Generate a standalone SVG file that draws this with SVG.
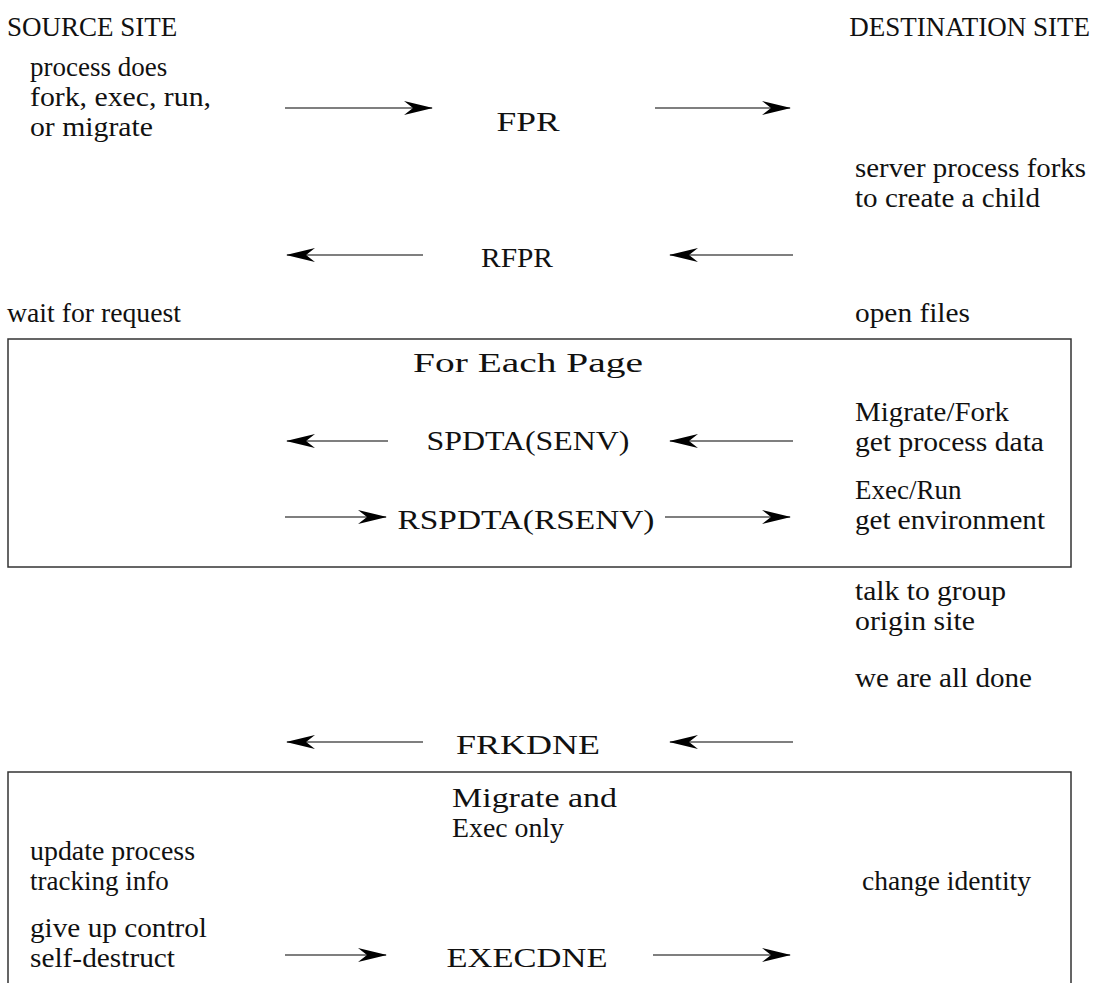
<svg xmlns="http://www.w3.org/2000/svg" width="1094" height="983" viewBox="0 0 1094 983">
  <style>
    text { font-family: 'Liberation Serif', 'Times New Roman', serif; font-size: 27px; fill: #111; }
    .c { text-anchor: middle; }
    .e { text-anchor: end; }
    .msg { stroke: #555; stroke-width: 1.4; fill: none; marker-end: url(#head); }
    .frame { fill: none; stroke: #333; stroke-width: 1.5; }
  </style>
  <defs>
    <marker id="head" markerUnits="userSpaceOnUse" markerWidth="32" markerHeight="18" viewBox="-30 -9 32 18" refX="0" refY="0" orient="auto">
      <path d="M1,0 L-28,-7 L-19,0 L-28,7 Z" fill="#000"/>
    </marker>
  </defs>

  <rect width="1094" height="983" fill="#fff"/>

  <!-- column headings -->
  <g id="headings">
    <text x="7" y="36">SOURCE SITE</text>
    <text class="e" x="1090" y="36">DESTINATION SITE</text>
  </g>

  <!-- enclosing frames -->
  <g id="for-each-page">
    <rect class="frame" x="8" y="339" width="1063" height="228"/>
    <text class="c" x="528" y="372" textLength="230" lengthAdjust="spacingAndGlyphs">For Each Page</text>
  </g>
  <g id="migrate-exec-only">
    <rect class="frame" x="8" y="772" width="1063" height="230"/>
    <text x="452" y="807" textLength="165" lengthAdjust="spacingAndGlyphs">Migrate and</text>
    <text x="452" y="837" textLength="112" lengthAdjust="spacingAndGlyphs">Exec only</text>
  </g>

  <!-- source side steps -->
  <g id="src-start">
    <text x="30" y="76">process does</text>
    <text x="30" y="106" textLength="181" lengthAdjust="spacingAndGlyphs">fork, exec, run,</text>
    <text x="30" y="136" textLength="123" lengthAdjust="spacingAndGlyphs">or migrate</text>
  </g>
  <g id="src-wait"><text x="7" y="322" textLength="174" lengthAdjust="spacingAndGlyphs">wait for request</text></g>
  <g id="src-update">
    <text x="30" y="860" textLength="165" lengthAdjust="spacingAndGlyphs">update process</text>
    <text x="30" y="890">tracking info</text>
  </g>
  <g id="src-end">
    <text x="30" y="937" textLength="177" lengthAdjust="spacingAndGlyphs">give up control</text>
    <text x="30" y="967" textLength="145" lengthAdjust="spacingAndGlyphs">self-destruct</text>
  </g>

  <!-- destination side steps -->
  <g id="dst-fork">
    <text x="855" y="177" textLength="231" lengthAdjust="spacingAndGlyphs">server process forks</text>
    <text x="855" y="207" textLength="185" lengthAdjust="spacingAndGlyphs">to create a child</text>
  </g>
  <g id="dst-open"><text x="855" y="322" textLength="115" lengthAdjust="spacingAndGlyphs">open files</text></g>
  <g id="dst-migrate">
    <text x="855" y="421" textLength="154" lengthAdjust="spacingAndGlyphs">Migrate/Fork</text>
    <text x="855" y="451" textLength="189" lengthAdjust="spacingAndGlyphs">get process data</text>
  </g>
  <g id="dst-exec">
    <text x="855" y="499">Exec/Run</text>
    <text x="855" y="529" textLength="190" lengthAdjust="spacingAndGlyphs">get environment</text>
  </g>
  <g id="dst-group">
    <text x="855" y="600" textLength="151" lengthAdjust="spacingAndGlyphs">talk to group</text>
    <text x="855" y="630" textLength="120" lengthAdjust="spacingAndGlyphs">origin site</text>
  </g>
  <g id="dst-done"><text x="855" y="687" textLength="177" lengthAdjust="spacingAndGlyphs">we are all done</text></g>
  <g id="dst-identity"><text x="862" y="890" textLength="169" lengthAdjust="spacingAndGlyphs">change identity</text></g>

  <!-- message labels -->
  <g id="msg-fpr"><text class="c" x="528" y="131" textLength="63" lengthAdjust="spacingAndGlyphs">FPR</text></g>
  <g id="msg-rfpr"><text class="c" x="517" y="267" textLength="72" lengthAdjust="spacingAndGlyphs">RFPR</text></g>
  <g id="msg-spdta"><text class="c" x="528" y="450" textLength="203" lengthAdjust="spacingAndGlyphs">SPDTA(SENV)</text></g>
  <g id="msg-rspdta"><text class="c" x="526" y="529" textLength="257" lengthAdjust="spacingAndGlyphs">RSPDTA(RSENV)</text></g>
  <g id="msg-frkdne"><text class="c" x="528" y="754" textLength="144" lengthAdjust="spacingAndGlyphs">FRKDNE</text></g>
  <g id="msg-execdne"><text class="c" x="527" y="967" textLength="161" lengthAdjust="spacingAndGlyphs">EXECDNE</text></g>

  <!-- message arrows -->
  <g id="connectors">
    <line class="msg" x1="285" y1="108" x2="432" y2="108"/>
    <line class="msg" x1="655" y1="108" x2="790" y2="108"/>
    <line class="msg" x1="423" y1="255" x2="287" y2="255"/>
    <line class="msg" x1="793" y1="255" x2="670" y2="255"/>
    <line class="msg" x1="388" y1="441" x2="287" y2="441"/>
    <line class="msg" x1="793" y1="441" x2="670" y2="441"/>
    <line class="msg" x1="285" y1="517" x2="386" y2="517"/>
    <line class="msg" x1="665" y1="517" x2="790" y2="517"/>
    <line class="msg" x1="423" y1="742" x2="287" y2="742"/>
    <line class="msg" x1="793" y1="742" x2="670" y2="742"/>
    <line class="msg" x1="285" y1="955" x2="386" y2="955"/>
    <line class="msg" x1="653" y1="955" x2="790" y2="955"/>
  </g>
</svg>
